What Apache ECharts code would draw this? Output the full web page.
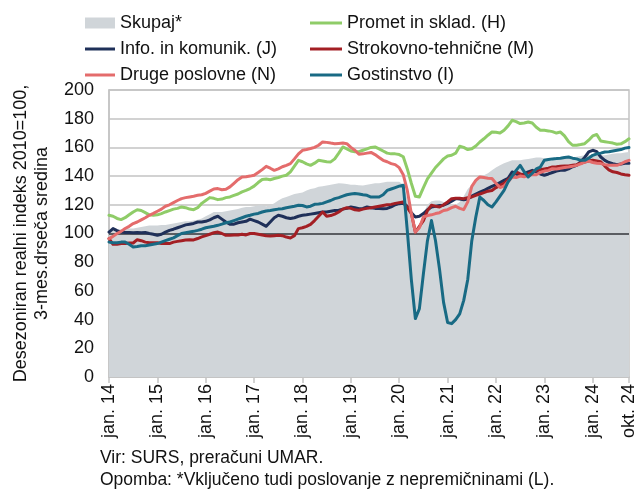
<!DOCTYPE html>
<html>
<head>
<meta charset="utf-8">
<script src="https://cdn.jsdelivr.net/npm/echarts@6/dist/echarts.min.js"></script>
<style>
html,body{margin:0;padding:0;background:#fff;}
#chart{width:638px;height:489px;}
</style>
</head>
<body>
<div id="chart"></div>
<script>
// month abbreviations and years for the category axis
const monthNames = ['jan.','feb.','mar.','apr.','maj','jun.','jul.','avg.','sep.','okt.','nov.','dec.'];
const years = ['14','15','16','17','18','19','20','21','22','23','24'];
const lastMonthIndex = 9; // okt. 24

const seriesNames = ['Skupaj*','Promet in sklad. (H)','Info. in komunik. (J)','Strokovno-tehnične (M)','Druge poslovne (N)','Gostinstvo (I)'];

const skupaj = [
101,102,102.5,103,103.5,103.5,103.5,104,104.5,105,105.5,105.5,
105.5,106,106,106.5,107,107.5,108,108.5,108.5,109,109.5,110.5,
112,113.5,115,115,115,115.5,116,116.5,117,118,118.5,118.5,
119,119.5,119.5,119,119.5,121,123,124.5,125.5,126.5,127.5,128,
128.5,130,131,131.5,132.5,133,133.5,134,134.5,135,134.8,134.5,
134,134,133.6,133.5,134,134.5,135,135,135.5,136,136,136,
136,134,124,108,101,106,114,120,122.5,123,123,122,
120,119.5,120,122,126,131,134,137,139,140.6,142,144,
146,147.5,149,150,151,151,151,151.5,152,152.5,153,153,
152.4,152,152.5,153,153,153.5,153,153,153.5,154,154.5,154.5,
155,155,154.5,154.5,155,155.5,156,156,156.5,156.8];

const prometH = [
112.7,112,110.5,109.7,111,113,115,116.6,116,114.5,113,112.7,
113,113.9,115,116,117,117.5,118.5,118,117,116.6,118,121,
123,125,124.5,123.6,124,125,125.5,126.6,127.5,129,130,131.3,
133,135.5,137.6,138,137.5,138.3,139,140,140.6,143,147,151,
150,148.5,147.5,149,151,150.5,150,149.9,152,156,160.3,159,
157.5,157,157,158,159,160,160.3,159,157.5,156,155.5,155.5,
155,153.5,145,135,126,125.5,132,138,142,146,149,152,
154,154.5,156,160.8,160,158.5,159,161,163.8,166,168.5,170.7,
170.5,170,172,175,178.9,178,176.6,177,177.7,177,174,172,
171.9,171.5,171,170,170.7,168,164,161.5,161.5,162,162.6,165,
168,169,164.5,164,163.5,163,162.2,162.5,164,166];

const infoJ = [
101,103.4,102,101,100.7,100.7,100.5,100.7,100.5,100.7,100,99.5,
98.7,99.5,101,102.2,103,104,105,106,106.5,107,108,108,
108.5,109.5,111,112,110,108,106.4,106.5,107.5,108,108.5,110,
109,108,106.5,105,108,111,112.7,112,111,110.4,111,112,
112.7,113,113.5,114,114.5,115,115,115.5,116,116.2,117,117.5,
118.5,118,117.3,117.5,118.5,118,117.5,117.5,117.3,117.5,118.5,120,
120.8,121,119,114.5,111.5,112,113.9,116.5,118.5,119,119.5,119.7,
121,122.5,124.3,124,123.5,124,126,127.5,128.9,130,131.5,132.9,
134,135.5,137,138.5,142.9,141.5,140.6,141.5,143,144,143,141.5,
140.6,141.5,142.5,143.5,144,144,145,146.5,147.5,150,153,156.8,
158,157,153.3,151,149.5,148.7,148,148.5,149,149];

const strokovnoM = [
96.4,92.5,92.5,93,93,93.4,93.4,95.7,95,94,93.5,93.5,
93.5,93,93,93,94,94.5,95,95.5,95.7,95.5,96.5,97.6,
98.5,99.5,100.5,101,100,98.7,98.7,99,99,99.5,99,100,
100,99.5,99,98.5,98.2,98.5,98.7,98.5,97.5,96.9,98.5,103.4,
104,105,106.4,109,112,115,112,112.5,113.5,115,117,118,
117.5,116.5,116.2,117,117.5,118,118.5,119,119.5,120,120.3,121,
121.5,122,118,113.9,101,105,109,116,119.7,119,118.5,120,
122,124.3,124.5,124.5,124.3,125,125.5,126.6,127.5,128.5,129.5,130,
132,133.5,135,137.5,140,142.9,141.5,140.6,141.5,143,144,144.5,
145,145.5,146.3,146.5,146.8,147,147,147.5,148,149,149.8,150.5,
151,150.5,150,147,144.4,143,142.5,141.5,141,140.6];

const drugeN = [
96.4,98,100,101.5,103.5,105,106.9,108,109.5,111,112.7,114,
115.5,117,119,120,121.5,123,124.3,125,125.5,126,126.6,127,
128,129.5,131,131.3,130.5,130.8,132.5,135,137.5,139.4,139.5,140,
140.6,142.5,144.5,146.8,145.5,144,145,146.5,147.5,148.7,152,155.5,
158,158.5,159.2,160,161.5,163.8,163.5,163,162.6,162.8,163,162.6,
160,158,155.2,155.5,156,156.5,155,153,151,150,148.7,148,
145.9,141,130,114,101,104,111.5,112.5,113,113.9,114.5,116,
116.6,118,119,117.5,116.6,122,132.9,137,139.4,139,138.5,138.3,
135,132,133,136,139.4,139,140,139.5,140.5,141,141,142.5,
143.5,144,145.2,145,145.5,146,146.3,146.8,147.5,148.5,149.8,150.5,
149.5,149,148.7,148,147.5,147.5,147.5,148.5,150,151];

const gostinstvoI = [
94,93.5,93.5,94,94,92.5,90.6,91,91.5,91.5,92,92.5,
93,94,95,96,97,98.5,100,100.5,101,101.5,102.2,103,
104,104.5,105,105.7,106.5,107.5,108,109,110,111,112,112.7,
113.5,114,115,115.7,116,116.5,117,117.3,118,118.5,119,119.7,
119.5,118.5,119,120.3,120.5,121,122,123,124.3,125,126,127,
127.5,127.8,127.5,127,126.6,125.4,125.4,125.4,127,130,131,132,
133,133.6,102,68,40.7,47.6,72,95,109,95,75,52,
38,37.2,40,44,53.4,68,95,111.5,125.4,123,120,118.5,
122,126,130,136,140,144,147.5,143,139.4,142,145,146.3,
151,151.5,152,152.2,152.5,153,153.3,152.5,152,151,151,152.5,
154.5,155.5,156,156.8,157,157.5,158,158.5,159.5,160];

const yTicks = {min:0, max:200, step:20};
const yTitle = 'Desezoniran realni indeks 2010=100,\n3-mes.drseča sredina';
const sourceText = 'Vir: SURS, preračuni UMAR.';
const noteText = 'Opomba: *Vključeno tudi poslovanje z nepremičninami (L).';

// build categories
const categories = [];
years.forEach((y, yi) => {
  monthNames.forEach((m, mi) => {
    if (yi < years.length - 1 || mi <= lastMonthIndex) categories.push(m + ' ' + y);
  });
});
const lastIdx = categories.length - 1;
const showTick = (idx) => idx % 12 === 0 || idx === lastIdx;

const colors = {
  skupaj: '#d0d5d9',
  H: '#8fcc68',
  J: '#1f3059',
  M: '#a31f24',
  N: '#e46c6c',
  I: '#186a84'
};
const FONT = 'Liberation Sans, Arial, sans-serif';

function lineSeries(name, data, color) {
  return {
    name: name, type: 'line', data: data, symbol: 'none', showSymbol: false,
    smooth: false, z: 3,
    lineStyle: {color: color, width: 3, join: 'round', cap: 'round'},
    itemStyle: {color: color},
    emphasis: {disabled: true}
  };
}

const chart = echarts.init(document.getElementById('chart'), null, {renderer: 'canvas'});
const legendText = {fontSize: 18, color: '#111', fontFamily: FONT, lineHeight: 18};
chart.setOption({
  animation: false,
  textStyle: {fontFamily: FONT},
  grid: {left: 109, right: 7, top: 90, bottom: 112, show: true, borderColor: '#c3c3c3', borderWidth: 1.5, backgroundColor: '#fff'},
  legend: [
    {left: 80, top: 9, orient: 'vertical', itemWidth: 30, itemHeight: 11, itemGap: 8,
     selectedMode: false, textStyle: legendText,
     data: [{name: seriesNames[0], icon: 'rect'}]},
    {left: 80, top: 35, orient: 'vertical', itemWidth: 30, itemHeight: 3, itemGap: 8,
     selectedMode: false, textStyle: legendText,
     data: [{name: seriesNames[2], icon: 'rect'}, {name: seriesNames[4], icon: 'rect'}]},
    {left: 305, top: 9, orient: 'vertical', itemWidth: 32, itemHeight: 3, itemGap: 8,
     selectedMode: false, textStyle: legendText,
     data: [{name: seriesNames[1], icon: 'rect'}, {name: seriesNames[3], icon: 'rect'}, {name: seriesNames[5], icon: 'rect'}]}
  ],
  xAxis: {
    type: 'category', data: categories, boundaryGap: false,
    axisLine: {lineStyle: {color: '#c3c3c3', width: 1.5}},
    axisTick: {show: true, interval: (i) => showTick(i), length: 6, lineStyle: {color: '#c3c3c3', width: 1.5}},
    axisLabel: {interval: (i) => showTick(i), rotate: 90, fontSize: 18, color: '#111', margin: 7, fontFamily: FONT},
    splitLine: {show: false}
  },
  yAxis: {
    type: 'value', min: yTicks.min, max: yTicks.max, interval: yTicks.step,
    name: yTitle, nameLocation: 'middle', nameRotate: 90, nameGap: 56,
    nameTextStyle: {fontSize: 18, color: '#111', lineHeight: 21, fontFamily: FONT, align: 'center'},
    axisLine: {show: true, lineStyle: {color: '#c3c3c3', width: 1.5}},
    axisTick: {show: false},
    axisLabel: {fontSize: 18, color: '#111', margin: 15, fontFamily: FONT},
    splitLine: {show: true, lineStyle: {color: '#c3c3c3', width: 1.5}}
  },
  series: [
    {
      name: seriesNames[0], type: 'line', data: skupaj, symbol: 'none', z: 1,
      lineStyle: {width: 0, color: colors.skupaj},
      itemStyle: {color: colors.skupaj},
      areaStyle: {color: colors.skupaj, opacity: 1},
      emphasis: {disabled: true},
      markLine: {
        silent: true, symbol: 'none', z: 2,
        label: {show: false},
        lineStyle: {color: '#5a5d62', width: 1.8, type: 'solid'},
        data: [{yAxis: 100}]
      }
    },
    lineSeries(seriesNames[1], prometH, colors.H),
    lineSeries(seriesNames[2], infoJ, colors.J),
    lineSeries(seriesNames[3], strokovnoM, colors.M),
    lineSeries(seriesNames[4], drugeN, colors.N),
    lineSeries(seriesNames[5], gostinstvoI, colors.I)
  ],
  graphic: [
    {type: 'text', left: 100, top: 449, style: {text: sourceText, fontSize: 17.5, fill: '#111', fontFamily: FONT}},
    {type: 'text', left: 100, top: 471, style: {text: noteText, fontSize: 17.5, fill: '#111', fontFamily: FONT}}
  ]
});
</script>
</body>
</html>
